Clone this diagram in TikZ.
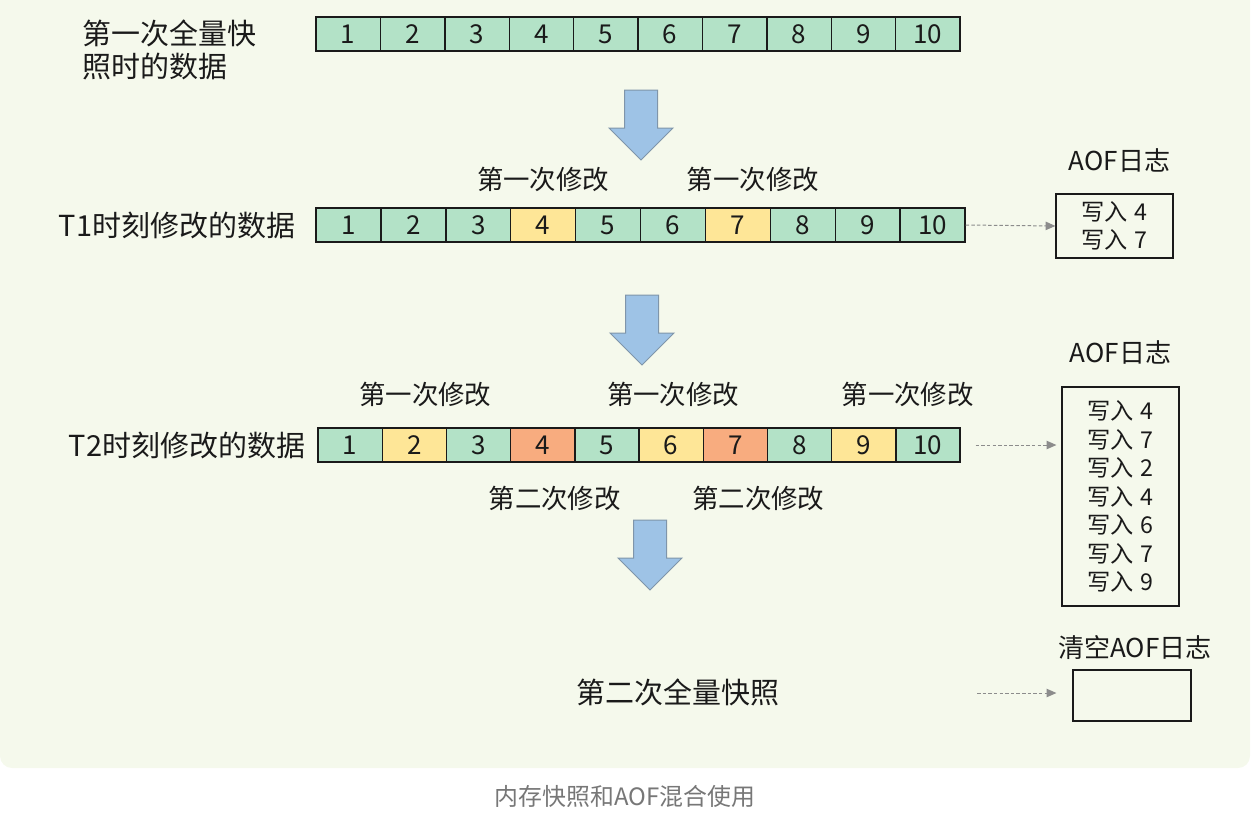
\documentclass[tikz,border=0pt]{standalone}
\usepackage{fontspec}
\setmainfont{Noto Sans CJK SC}
\usetikzlibrary{shapes,arrows,arrows.meta,positioning}
\newdimen\px \px=0.025cm
\definecolor{bgc}{HTML}{F5F9EC}
\definecolor{cgreen}{HTML}{B3E2C7}
\definecolor{cyellow}{HTML}{FEE697}
\definecolor{corange}{HTML}{F8AC7F}
\definecolor{ablue}{HTML}{9EC3E6}
\definecolor{aedge}{HTML}{7F95AA}
\definecolor{txt}{HTML}{1A1A1A}
\definecolor{capgray}{HTML}{777777}
\tikzstyle{cell} = [draw=txt, line width=1.4\px, minimum height=34\px, inner sep=0pt, text=txt, font=\fontsize{18.5}{20}\selectfont]
\tikzstyle{rowlbl} = [inner sep=0pt, text=txt, font=\fontsize{20.6}{23.5}\selectfont]
\tikzstyle{modlbl} = [inner sep=0pt, text=txt, font=\fontsize{18.8}{21}\selectfont]
\tikzstyle{aoflbl} = [inner sep=0pt, text=txt, font=\fontsize{18.5}{21}\selectfont]
\tikzstyle{logbox} = [draw=txt, line width=1.2\px, align=center, inner sep=0pt, text=txt, font=\fontsize{16.5}{20.3}\selectfont]
\tikzstyle{logline} = [draw=black!45, line width=1\px, dash pattern=on 2.5pt off 1.5pt, -{Triangle[length=7pt,width=6pt]}]
\tikzstyle{bigarrow} = [fill=ablue, draw=aedge, line width=1\px, line join=miter]
\def\gap{\hspace{0.3em}}

\begin{document}
\begin{tikzpicture}[x=0.025cm, y=-0.025cm]
    \useasboundingbox (0,0) rectangle (1256,812);
    \fill[bgc, rounded corners=0.3cm] (0,-20) rectangle (1250,768);

    \foreach \i in {1,...,10}
    {
        \path ({316+64.4*(\i-0.5)},34) node (snap\i) [cell, minimum width=64.4\px, fill=cgreen] {\i};
    }
    \path (82,50) node (lblsnap) [rowlbl, anchor=west, align=left] {第一次全量快\\照时的数据};

    \foreach \i/\c in {1/cgreen,2/cgreen,3/cgreen,4/cyellow,5/cgreen,6/cgreen,7/cyellow,8/cgreen,9/cgreen,10/cgreen}
    {
        \path ({316+64.9*(\i-0.5)},225) node (tone\i) [cell, minimum width=64.9\px, fill=\c] {\i};
    }
    \path (tone1.west)+(-20,0) node (lbltone) [rowlbl, anchor=east] {T1时刻修改的数据};
    \path (tone4.north)+(0,-28) node (modA) [modlbl] {第一次修改};
    \path (tone7.north)+(15,-28) node (modB) [modlbl] {第一次修改};

    \path (1114.5,226) node (aof1) [logbox, minimum width=117\px, minimum height=64\px] {写入\gap 4\\写入\gap 7};
    \path (aof1.north)+(5,-33) node (aoft1) [aoflbl] {AOF日志};

    \foreach \i/\c in {1/cgreen,2/cyellow,3/cgreen,4/corange,5/cgreen,6/cyellow,7/corange,8/cgreen,9/cyellow,10/cgreen}
    {
        \path ({318+64.2*(\i-0.5)},445) node (ttwo\i) [cell, minimum width=64.2\px, fill=\c] {\i};
    }
    \path (ttwo1.west)+(-12,0) node (lblttwo) [rowlbl, anchor=east] {T2时刻修改的数据};
    \path (ttwo2.north)+(11,-33) node (modC) [modlbl] {第一次修改};
    \path (ttwo6.north)+(2,-33) node (modD) [modlbl] {第一次修改};
    \path (ttwo9.north)+(44,-33) node (modE) [modlbl] {第一次修改};
    \path (ttwo4.south)+(12,36) node (modF) [modlbl] {第二次修改};
    \path (ttwo7.south)+(23,36) node (modG) [modlbl] {第二次修改};

    \path (1120.5,496.5) node (aof2) [logbox, minimum width=117\px, minimum height=219\px] {写入\gap 4\\写入\gap 7\\写入\gap 2\\写入\gap 4\\写入\gap 6\\写入\gap 7\\写入\gap 9};
    \path (aof2.north)+(0,-34) node (aoft2) [aoflbl] {AOF日志};

    \path (678,692) node (snaptwo) [rowlbl] {第二次全量快照};
    \path (1132,695.5) node (clrbox) [logbox, minimum width=118\px, minimum height=51\px] {};
    \path (clrbox.north)+(3,-22) node (clrt) [aoflbl] {清空AOF日志};
    \coordinate (clr) at (977,693);

    \foreach \ax/\ay in {641/90,642/295,650/520}
    {
        \draw[bigarrow] (\ax-16.5,\ay) -- (\ax+16.5,\ay) -- (\ax+16.5,\ay+38) -- (\ax+32,\ay+38)
            -- (\ax,\ay+70) -- (\ax-32,\ay+38) -- (\ax-16.5,\ay+38) -- cycle;
    }

    \path [logline] (tone10.east) -- (aof1.west);
    \path [logline, shorten <=0.375cm, shorten >=0.125cm] (ttwo10.east) -- (ttwo10.east -| aof2.west);
    \path [logline, shorten >=0.4cm] (clr) -- (clr -| clrbox.west);

    \path (625,796) node (caption) [inner sep=0pt, text=capgray, font=\fontsize{17}{19}\selectfont] {内存快照和AOF混合使用};
\end{tikzpicture}
\end{document}
